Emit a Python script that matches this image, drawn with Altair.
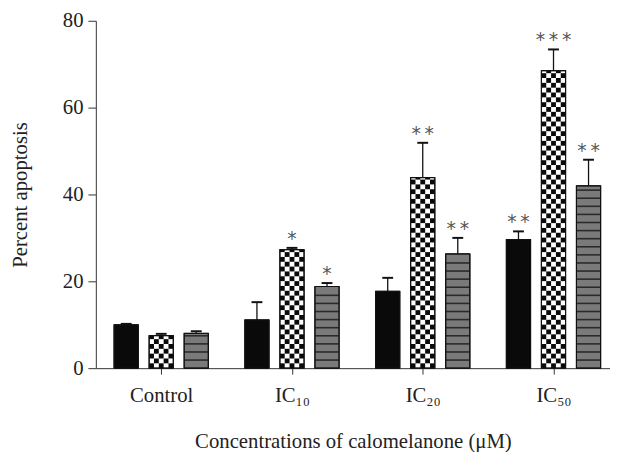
import math
import altair as alt
import pandas as pd

# ---------------- data ----------------
groups = ["Control", "IC₁₀", "IC₂₀", "IC₅₀"]
series = ["solid", "checker", "striped"]
mean_solid = [10.0, 11.1, 17.7, 29.6]
mean_checker = [7.5, 27.3, 43.9, 68.5]
mean_striped = [8.0, 18.8, 26.3, 42.0]
err_solid = [10.2, 15.2, 20.8, 31.5]
err_checker = [7.9, 27.7, 51.9, 73.4]
err_striped = [8.5, 19.6, 30.0, 48.0]
stars_solid = ["", "", "", "**"]
stars_checker = ["", "*", "**", "***"]
stars_striped = ["", "*", "**", "**"]
y_ticks = [0, 20, 40, 60, 80]

means = [mean_solid, mean_checker, mean_striped]
errs = [err_solid, err_checker, err_striped]
stars = [stars_solid, stars_checker, stars_striped]

# ---------------- layout ----------------
W, H = 521, 352
PX = 132.5                 # pixels per group step
YPX = H / 80.0             # pixels per y unit
OFF = 35.5 / PX            # series offset within group
BW = 24.5 / PX             # bar width
CAP = 5.5 / PX             # half cap width
NCOL = 5                   # checker columns
CH = 4.9 / YPX             # checker cell height (data units)
ST = 8.2 / YPX             # stripe spacing (data units)
XMAX = W / PX
SERIF = "Liberation Serif"

bars, cells, stripes, errdf = [], [], [], []
for si, s in enumerate(series):
    for gi, g in enumerate(groups):
        c = gi + 0.5 + (si - 1) * OFF
        l, r = c - BW / 2, c + BW / 2
        v = means[si][gi]
        e = errs[si][gi]
        bars.append(dict(series=s, group=g, left=l, right=r, value=v))
        errdf.append(dict(series=s, center=c, cl=c - CAP, cr=c + CAP,
                          value=v, err=e, stars="\u2009".join(stars[si][gi])))
        if s == "checker":
            cw = (r - l) / NCOL
            nrow = math.ceil(v / CH)
            for ri in range(nrow):
                y0 = ri * CH
                y1 = min((ri + 1) * CH, v)
                for ci in range(NCOL):
                    if (ri + ci) % 2 == 0:
                        cells.append(dict(left=l + ci * cw, right=l + (ci + 1) * cw,
                                          value=y1, base=y0))
        if s == "striped":
            k = 1
            while k * ST < v - 0.4:
                stripes.append(dict(left=l, right=r, value=k * ST))
                k += 1

bars = pd.DataFrame(bars)
cells = pd.DataFrame(cells)
stripes = pd.DataFrame(stripes)
errdf = pd.DataFrame(errdf)

xs = alt.Scale(domain=[0, XMAX], nice=False, zero=False)
ys = alt.Scale(domain=[0, 80], nice=False)

label_expr = "[" + ",".join("'%s'" % g for g in groups) + "][floor(datum.value)]"

x_axis = alt.Axis(values=[0.5, 1.5, 2.5, 3.5], labelExpr=label_expr, grid=False,
                  title="Concentrations of calomelanone (μM)", tickSize=6,
                  labelFont=SERIF, labelFontSize=21, labelColor="#222",
                  labelPadding=11, titleFont=SERIF, titleFontSize=21,
                  titleFontWeight="normal", titleColor="#222", titlePadding=25,
                  domainColor="#333", tickColor="#333", labelFlush=False)
y_axis = alt.Axis(values=y_ticks, grid=False, title="Percent apoptosis", tickSize=8,
                  labelFont=SERIF, labelFontSize=21, labelColor="#222",
                  labelPadding=5, titleFont=SERIF, titleFontSize=21,
                  titleFontWeight="normal", titleColor="#222", titlePadding=32,
                  domainColor="#333", tickColor="#333")


def X(field):
    return alt.X(field, type="quantitative", scale=xs, axis=x_axis)


def Y(field):
    return alt.Y(field, type="quantitative", scale=ys, axis=y_axis)


color_scale = alt.Scale(domain=series, range=["#0a0a0a", "#ffffff", "#7a7a7a"])

base_bars = alt.Chart(bars).mark_rect(stroke="#111", strokeWidth=1).encode(
    x=X("left"), x2="right", y=Y("value"), y2=alt.datum(0),
    fill=alt.Fill("series:N", scale=color_scale, legend=None),
)

checker = alt.Chart(cells).mark_rect(color="#0a0a0a").encode(
    x=X("left"), x2="right", y=Y("value"), y2="base:Q",
)

stripe = alt.Chart(stripes).mark_rule(color="#2a2a2a", strokeWidth=1.6).encode(
    x=X("left"), x2="right", y=Y("value"),
)

outline = alt.Chart(bars).mark_rect(fillOpacity=0, stroke="#111", strokeWidth=1.2).encode(
    x=X("left"), x2="right", y=Y("value"), y2=alt.datum(0),
)

whisker = alt.Chart(errdf).mark_rule(color="#111", strokeWidth=1.3).encode(
    x=X("center"), y=Y("value"), y2="err:Q",
)

cap = alt.Chart(errdf).mark_rule(color="#111", strokeWidth=2).encode(
    x=X("cl"), x2="cr:Q", y=Y("err"),
)

star_text = alt.Chart(errdf).mark_text(font="DejaVu Sans", fontSize=19, color="#555",
                                       baseline="top", dy=-18).encode(
    x=X("center"), y=Y("err"), text="stars:N",
)

chart = alt.layer(base_bars, checker, stripe, outline, whisker, cap, star_text).properties(
    width=W, height=H, background="white",
    autosize=alt.AutoSizeParams(type="none"),
    padding={"left": 89, "top": 10, "right": 0, "bottom": 82},
).configure_view(stroke=None)

chart.save("out.html", embed_options={"renderer": "svg", "actions": False})
